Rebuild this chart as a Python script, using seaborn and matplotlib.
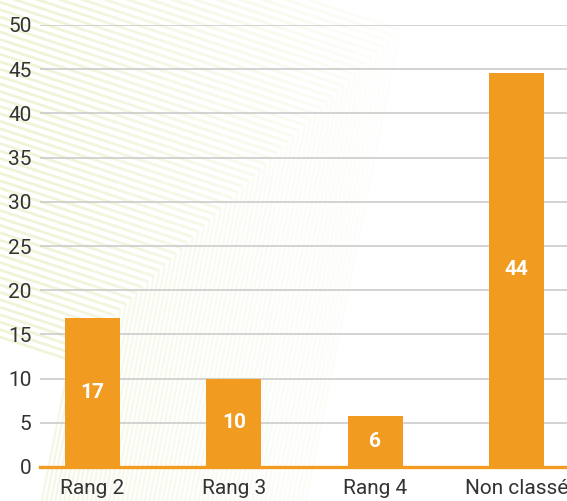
import numpy as np
import matplotlib
matplotlib.use("Agg")
import matplotlib.pyplot as plt
import seaborn as sns
import pandas as pd

categories = ["Rang 2", "Rang 3", "Rang 4", "Non classé"]
values = [16.8, 10.0, 5.8, 44.6]
labels = ["17", "10", "6", "44"]
yticks = [0, 5, 10, 15, 20, 25, 30, 35, 40, 45, 50]

BAR = "#F29B21"
TXT = "#333333"

sns.set_theme(style="white")
plt.rcParams["font.family"] = ["Roboto", "DejaVu Sans"]

W, H = 567, 501
fig = plt.figure(figsize=(W / 100, H / 100), dpi=100)
fig.patch.set_facecolor("white")

# decorative background pattern (figure pixel space)
bg = fig.add_axes([0, 0, 1, 1], zorder=0)
bg.set_xlim(0, W)
bg.set_ylim(H, 0)
bg.axis("off")
n = 60
for i in range(n):
    t = i / (n - 1)
    cx = 400 - t * 330
    cy = 30 + t * 330
    bx = cx - 0.2 * (H - cy)
    bg.plot([0, cx], [cy - 0.33 * cx, cy], color="#eff4d6", lw=2.0,
            solid_capstyle="butt")
    bg.plot([cx, bx], [cy, H], color="#f4f7e4", lw=1.6, solid_capstyle="butt")
grad = np.ones((10, 256, 4))
xx = np.linspace(0, 1, 256)
ramp = np.clip((xx - 0.05) / 0.72, 0, 1) ** 0.9
grad[..., 3] = ramp[None, :]
bg.imshow(grad, extent=[0, W, H, 0], aspect="auto", zorder=5)

ax = fig.add_axes([40 / W, 34 / H, 1 - 40 / W, (467 - 25) / H], zorder=1)
ax.patch.set_alpha(0)

df = pd.DataFrame({"cat": categories, "val": values})
sns.barplot(data=df, x="cat", y="val", color=BAR, saturation=1, width=0.39,
            linewidth=0, ax=ax, zorder=3)

ax.bar_label(ax.containers[0], labels=labels, label_type="center", color="white",
             fontsize=15, fontweight="bold")

ax.set_ylim(0, 50)
ax.set_xlim(-0.3715, 3.357)
ax.set_yticks(yticks)
ax.set_xlabel("")
ax.set_ylabel("")
ax.yaxis.grid(True, color="#c8c8c8", lw=1.1)
ax.set_axisbelow(True)
for s in ["top", "right", "left"]:
    ax.spines[s].set_visible(False)
ax.spines["bottom"].set_color(BAR)
ax.spines["bottom"].set_linewidth(2.4)
ax.spines["bottom"].set_zorder(4)
ax.tick_params(axis="both", length=0, labelsize=15, labelcolor=TXT)
ax.tick_params(axis="y", pad=6)
ax.tick_params(axis="x", pad=9)

fig.savefig("out.png", dpi=100)
